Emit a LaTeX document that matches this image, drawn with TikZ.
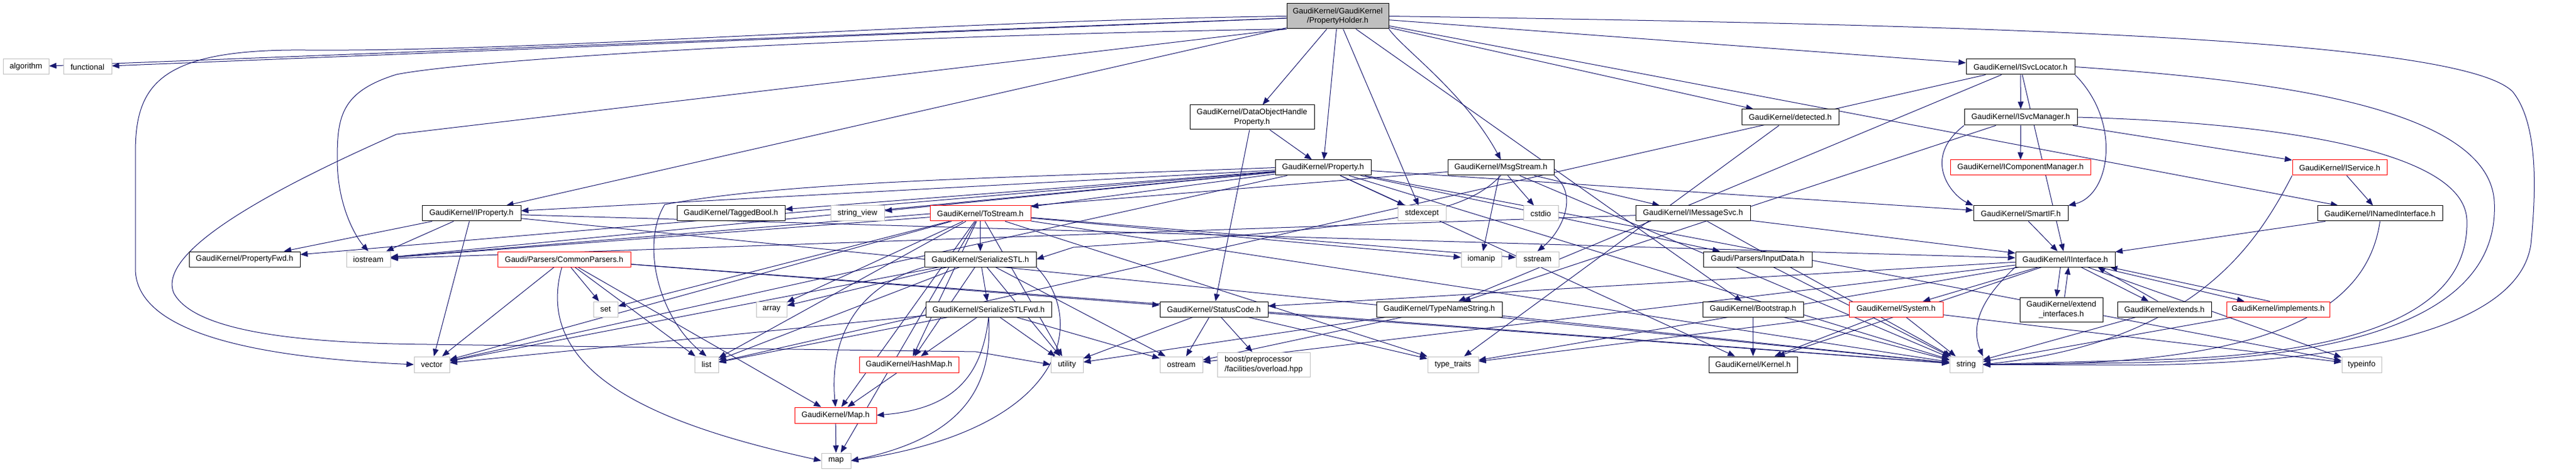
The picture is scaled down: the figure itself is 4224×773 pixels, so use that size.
\documentclass[tikz,border=0pt]{standalone}
\usepackage{fontspec}
\setmainfont{Liberation Sans}
\usetikzlibrary{arrows.meta}
\definecolor{edgec}{HTML}{191970}
\definecolor{grayb}{HTML}{BFBFBF}
\definecolor{redb}{HTML}{FF0000}
\pgfdeclarelayer{bg}
\pgfdeclarelayer{paper}
\pgfsetlayers{paper,bg,main}
\newcommand\nd[7]{\node[#6, minimum width={(#4-#2)*0.75pt}, minimum height={(#5-#3)*0.75pt}] (#1) at ({(#2+#4)/2},{(#3+#5)/2}) {#7};}
\begin{document}
\begin{tikzpicture}[x=0.75pt,y=-0.75pt,
  box/.style={draw=black, fill=white, line width=0.75pt, inner sep=0pt, font=\fontsize{9.7}{11.5}\selectfont, align=center},
  sys/.style={box, draw=grayb},
  trunc/.style={box, draw=redb},
  e/.style={draw=edgec, line width=0.75pt, -{Triangle[length=9pt,width=7pt]}}]
\useasboundingbox (0,0) rectangle (4224,773);
\begin{pgfonlayer}{paper}
\fill[white] (0,0) rectangle (4224,773);
\end{pgfonlayer}
% rank 0
\nd{PH}{2110}{6}{2277}{47}{box,fill=grayb}{GaudiKernel/GaudiKernel\\/PropertyHolder.h}
% rank 1
\nd{alg}{5}{97}{80}{122}{sys}{algorithm}
\nd{fun}{104}{97}{183}{122}{sys}{functional}
\nd{SL}{3224}{97}{3402}{122}{box}{GaudiKernel/ISvcLocator.h}
% rank 2
\nd{DOH}{1951}{172}{2155}{212}{box}{GaudiKernel/DataObjectHandle\\Property.h}
\nd{det}{2856}{179}{3015}{205}{box}{GaudiKernel/detected.h}
\nd{SM}{3221}{179}{3406}{205}{box}{GaudiKernel/ISvcManager.h}
% rank 3
\nd{Prop}{2091}{262}{2248}{287}{box}{GaudiKernel/Property.h}
\nd{Msg}{2374}{262}{2548}{287}{box}{GaudiKernel/MsgStream.h}
\nd{ICM}{3198}{262}{3428}{287}{trunc}{GaudiKernel/IComponentManager.h}
\nd{ISv}{3759}{262}{3914}{287}{trunc}{GaudiKernel/IService.h}
% rank 4
\nd{IProp}{692}{337}{854}{362}{box}{GaudiKernel/IProperty.h}
\nd{TB}{1110}{337}{1287}{362}{box}{GaudiKernel/TaggedBool.h}
\nd{sv}{1362}{337}{1450}{362}{sys}{string\_view}
\nd{TS}{1525}{337}{1690}{362}{trunc}{GaudiKernel/ToStream.h}
\nd{stdx}{2292}{337}{2371}{362}{sys}{stdexcept}
\nd{cstd}{2498}{337}{2555}{362}{sys}{cstdio}
\nd{IMS}{2682}{337}{2870}{362}{box}{GaudiKernel/IMessageSvc.h}
\nd{SIF}{3236}{337}{3391}{362}{box}{GaudiKernel/SmartIF.h}
\nd{INI}{3800}{337}{4005}{362}{box}{GaudiKernel/INamedInterface.h}
% rank 5
\nd{PF}{310}{412}{492}{437}{box}{GaudiKernel/PropertyFwd.h}
\nd{ios}{568}{412}{640}{437}{sys}{iostream}
\nd{CP}{816}{412}{1034}{437}{trunc}{Gaudi/Parsers/CommonParsers.h}
\nd{SS}{1516}{412}{1699}{437}{box}{GaudiKernel/SerializeSTL.h}
\nd{iom}{2396}{412}{2462}{437}{sys}{iomanip}
\nd{sst}{2486}{412}{2556}{437}{sys}{sstream}
\nd{ID}{2793}{412}{2971}{437}{box}{Gaudi/Parsers/InputData.h}
\nd{II}{3305}{412}{3468}{437}{box}{GaudiKernel/IInterface.h}
% rank 6
\nd{set}{973}{494}{1013}{519}{sys}{set}
\nd{arr}{1240}{494}{1290}{519}{sys}{array}
\nd{SSF}{1518}{494}{1724}{519}{box}{GaudiKernel/SerializeSTLFwd.h}
\nd{SC}{1902}{494}{2079}{519}{box}{GaudiKernel/StatusCode.h}
\nd{TNS}{2257}{494}{2463}{519}{box}{GaudiKernel/TypeNameString.h}
\nd{BS}{2792}{494}{2957}{519}{box}{GaudiKernel/Bootstrap.h}
\nd{Sys}{3032}{494}{3186}{519}{trunc}{GaudiKernel/System.h}
\nd{EI}{3312}{487}{3448}{527}{box}{GaudiKernel/extend\\\_interfaces.h}
\nd{ext}{3472}{494}{3626}{519}{box}{GaudiKernel/extends.h}
\nd{impl}{3651}{494}{3820}{519}{trunc}{GaudiKernel/implements.h}
% rank 7
\nd{vec}{679}{584}{737}{610}{sys}{vector}
\nd{lst}{1139}{584}{1178}{610}{sys}{list}
\nd{HM}{1409}{584}{1572}{610}{trunc}{GaudiKernel/HashMap.h}
\nd{util}{1723}{584}{1776}{610}{sys}{utility}
\nd{ostr}{1902}{584}{1972}{610}{sys}{ostream}
\nd{boost}{1996}{577}{2148}{617}{sys,align=left}{boost/preprocessor\\/facilities/overload.hpp}
\nd{tt}{2341}{584}{2424}{610}{sys}{type\_traits}
\nd{Ker}{2802}{584}{2947}{610}{box}{GaudiKernel/Kernel.h}
\nd{str}{3197}{584}{3251}{610}{sys}{string}
\nd{ti}{3840}{584}{3905}{610}{sys}{typeinfo}
% rank 8,9
\nd{MapH}{1303}{667}{1437}{693}{trunc}{GaudiKernel/Map.h}
\nd{map}{1347}{742}{1395}{767}{sys}{map}

\begin{pgfonlayer}{bg}
% PropertyHolder
\draw[e] (PH) -- (alg);
\draw[e] (PH) -- (fun);
\draw[e] (PH.west) .. controls (1500,35) and (900,85) .. (500,82) .. controls (260,80) and (222,140) .. (222,250) -- (222,440) .. controls (222,560) and (480,588) .. (vec.west);
\draw[e] (PH.south west) -- (650,220) .. controls (400,330) and (260,420) .. (285,480) .. controls (320,545) and (500,562) .. (700,564) -- (1600,576) -- (util.west);
\draw[e] (PH.south west) .. controls (1300,62) and (760,100) .. (650,122) .. controls (560,150) and (553,190) .. (553,260) .. controls (553,340) and (585,390) .. (ios.north);
\draw[e] (PH) -- (IProp);
\draw[e] (PH) -- (DOH);
\draw[e] (PH) -- (Prop);
\draw[e] (PH) -- (stdx);
\draw[e] (PH.south east) .. controls (2300,80) and (2400,150) .. (Msg.north);
\draw[e] (PH) -- (det);
\draw[e] (PH) -- (SL);
\draw[e] (PH) -- (BS);
\draw[e] (PH) -- (INI);
\draw[e] (PH.east) .. controls (3200,40) and (4030,60) .. (4120,150) .. controls (4160,200) and (4160,300) .. (4150,400) .. controls (4130,540) and (3850,595) .. (3500,598) -- (str.east);
% DataObjectHandleProperty
\draw[e] (DOH) -- (Prop);
\draw[e] (DOH) -- (SC);
% Property
\draw[e] (Prop) -- (IProp);
\draw[e] (Prop) -- (PF);
\draw[e] (Prop) -- (TB);
\draw[e] (Prop) -- (sv);
\draw[e] (Prop) -- (TS);
\draw[e] (Prop) -- (ios);
\draw[e] (Prop) -- (stdx);
\draw[e] (Prop.west) .. controls (1700,290) and (1300,295) .. (1090,335) .. controls (1050,400) and (1080,520) .. (lst.north);
\draw[e] (Prop) -- (ID);
\draw[e] (Prop) -- (Ker);
\draw[e] (Prop) -- (SIF);
\draw[e] (Prop) -- (str);
\draw[e] (Prop) -- (ti);
\draw[e] (Prop) -- (vec);
% IProperty
\draw[e] (IProp) -- (PF);
\draw[e] (IProp) -- (ios);
\draw[e] (IProp) -- (vec);
\draw[e] (IProp) -- (II);
\draw[e] (IProp) -- (str);
% MsgStream
\draw[e] (Msg) -- (iom);
\draw[e] (Msg.south east) .. controls (2590,320) and (2560,380) .. (sst.north);
\draw[e] (Msg) -- (cstd);
\draw[e] (Msg) -- (IMS);
\draw[e] (Msg) -- (str);
\draw[e] (Msg.south) .. controls (2400,350) and (2300,370) .. (1760,405) -- (SS.east);
\draw[e] (Msg) -- (ios);
% ToStream
\draw[e] (TS) -- (SS);
\draw[e] (TS) -- (vec);
\draw[e] (TS) -- (lst);
\draw[e] (TS) -- (arr);
\draw[e] (TS) -- (set);
\draw[e] (TS) -- (map);
\draw[e] (TS) -- (MapH);
\draw[e] (TS) -- (HM);
\draw[e] (TS) -- (util);
\draw[e] (TS) -- (sst);
\draw[e] (TS) -- (iom);
\draw[e] (TS) -- (str);
\draw[e] (TS) -- (tt);
\draw[e] (TS) -- (ios);
% CommonParsers
\draw[e] (CP) -- (set);
\draw[e] (CP) -- (vec);
\draw[e] (CP) -- (lst);
\draw[e] (CP) .. controls (870,620) and (1100,700) .. (map.west);
\draw[e] (CP) -- (MapH);
\draw[e] (CP) -- (SC);
\draw[e] (CP) -- (str);
% SerializeSTL
\draw[e] (SS) -- (SSF);
\draw[e] (SS) -- (HM);
\draw[e] (SS.south west) .. controls (1400,470) and (1360,560) .. (MapH.north);
\draw[e] (SS.south east) .. controls (1780,520) and (1760,700) .. (map.east);
\draw[e] (SS) -- (util);
\draw[e] (SS) -- (ostr);
\draw[e] (SS) -- (vec);
\draw[e] (SS) -- (lst);
\draw[e] (SS) -- (arr);
% SerializeSTLFwd
\draw[e] (SSF) -- (HM);
\draw[e] (SSF.south) .. controls (1610,620) and (1560,670) .. (MapH.east);
\draw[e] (SSF.south) .. controls (1630,650) and (1560,720) .. (map.east);
\draw[e] (SSF) -- (util);
\draw[e] (SSF) -- (ostr);
\draw[e] (SSF) -- (vec);
\draw[e] (SSF) -- (lst);
% others
\draw[e] (HM) -- (MapH);
\draw[e] (MapH) -- (map);
\draw[e] (SC) -- (ostr);
\draw[e] (SC) -- (boost);
\draw[e] (SC) -- (util);
\draw[e] (SC) -- (str);
\draw[e] (SC) -- (tt);
\draw[e] (TNS) -- (ostr);
\draw[e] (TNS) -- (str);
\draw[e] (TNS) -- (util);
\draw[e] (IMS) -- (II);
\draw[e] (IMS) -- (str);
\draw[e] (IMS) -- (ios);
\draw[e] (Sys) -- (Ker);
\draw[e] (Sys) -- (str);
\draw[e] (Sys) -- (ti);
\draw[e] (Sys) -- (tt);
\draw[e] (II) -- (Ker);
\draw[e] (II) -- (SC);
\draw[e] (II) -- (Sys);
\draw[e] (II) -- (ostr);
\draw[e] (II) -- (tt);
\draw[e] (II) -- (ti);
\draw[e] (II.south west) .. controls (3270,470) and (3225,520) .. (str.north east);
\draw[e] ([xshift=-6pt]II.south) -- ([xshift=-6pt]EI.north);
\draw[e] ([xshift=4pt]EI.north) -- ([xshift=4pt]II.south);
\draw[e] (II) -- (ext);
\draw[e] ([xshift=-8pt]ext.north) -- ([xshift=40pt]II.south);
\draw[e] (II) -- (impl);
\draw[e] ([xshift=-10pt]impl.north) -- ([xshift=55pt]II.south);
\draw[e] (SL) -- (SM);
\draw[e] (SL.south east) .. controls (3480,200) and (3460,320) .. (SIF.north east);
\draw[e] (SL) -- (II);
\draw[e] (SL) -- (TNS);
\draw[e] (SL) -- (lst);
\draw[e] (SL.east) .. controls (3700,130) and (4080,170) .. (4090,330) .. controls (4100,520) and (3850,588) .. (3500,594) -- (str.east);
\draw[e] (SM) -- (ICM);
\draw[e] (SM) -- (ISv);
\draw[e] (SM.south west) .. controls (3150,260) and (3200,320) .. (SIF.north west);
\draw[e] (SM) -- (TNS);
\draw[e] (SM.east) .. controls (3700,200) and (4040,240) .. (4045,360) .. controls (4050,520) and (3850,584) .. (3500,590) -- (str.east);
\draw[e] (ISv) -- (INI);
\draw[e] (ISv.south west) .. controls (3700,400) and (3600,560) .. (str.east);
\draw[e] (INI) -- (II);
\draw[e] (INI.south) .. controls (3880,520) and (3700,600) .. (str.east);
\draw[e] (SIF) -- (II);
\draw[e] (det) -- (tt);
\draw[e] (BS) -- (Ker);
\draw[e] (BS) -- (str);
\draw[e] (ID) -- (str);
\draw[e] (impl) -- (str);
\draw[e] (ext) -- (str);
\end{pgfonlayer}
\end{tikzpicture}
\end{document}
